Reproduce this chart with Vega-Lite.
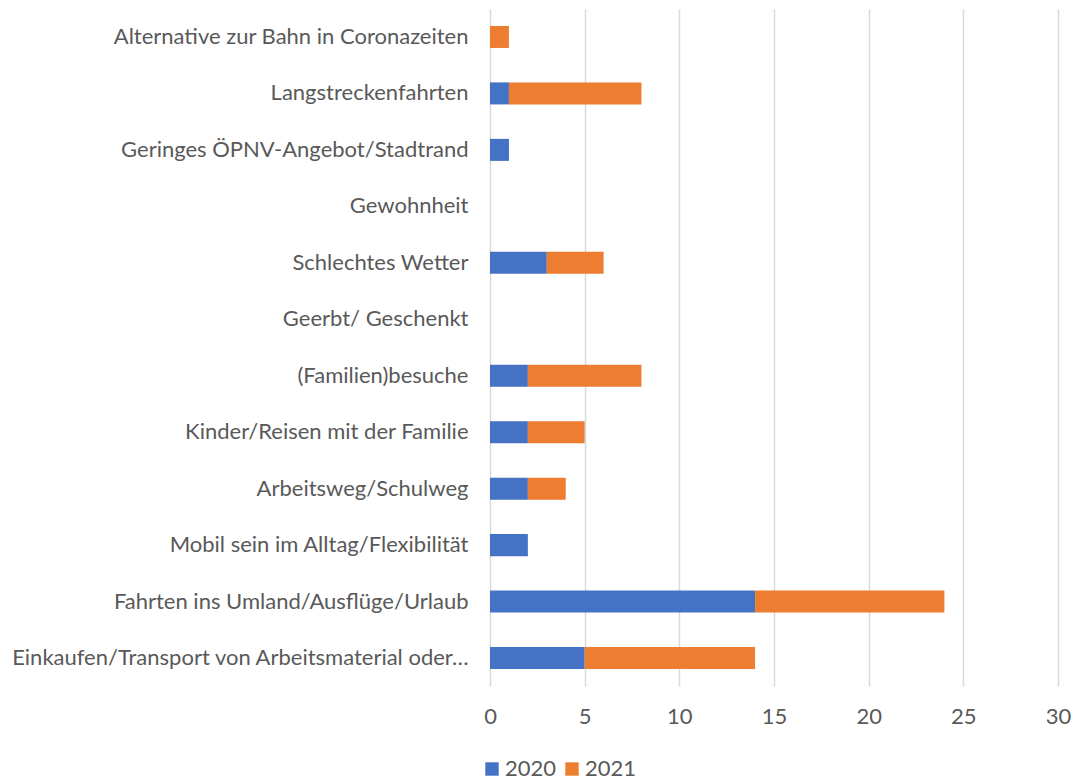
{
  "$schema": "https://vega.github.io/schema/vega-lite/v6.json",
  "width": 568,
  "height": 677,
  "autosize": {"type": "none"},
  "padding": {"left": 490, "top": 9, "right": 30, "bottom": 94},
  "background": "white",
  "config": {
    "view": {"stroke": null},
    "font": "Lato",
    "axis": {"labelFont": "Lato", "labelColor": "#595959", "labelFontSize": 22}
  },
  "data": {
    "values": [
      {"cat": "Alternative zur Bahn in Coronazeiten", "year": "2020", "v": 0},
      {"cat": "Alternative zur Bahn in Coronazeiten", "year": "2021", "v": 1},
      {"cat": "Langstreckenfahrten", "year": "2020", "v": 1},
      {"cat": "Langstreckenfahrten", "year": "2021", "v": 7},
      {"cat": "Geringes ÖPNV-Angebot/Stadtrand", "year": "2020", "v": 1},
      {"cat": "Geringes ÖPNV-Angebot/Stadtrand", "year": "2021", "v": 0},
      {"cat": "Gewohnheit", "year": "2020", "v": 0},
      {"cat": "Gewohnheit", "year": "2021", "v": 0},
      {"cat": "Schlechtes Wetter", "year": "2020", "v": 3},
      {"cat": "Schlechtes Wetter", "year": "2021", "v": 3},
      {"cat": "Geerbt/ Geschenkt", "year": "2020", "v": 0},
      {"cat": "Geerbt/ Geschenkt", "year": "2021", "v": 0},
      {"cat": "(Familien)besuche", "year": "2020", "v": 2},
      {"cat": "(Familien)besuche", "year": "2021", "v": 6},
      {"cat": "Kinder/Reisen mit der Familie", "year": "2020", "v": 2},
      {"cat": "Kinder/Reisen mit der Familie", "year": "2021", "v": 3},
      {"cat": "Arbeitsweg/Schulweg", "year": "2020", "v": 2},
      {"cat": "Arbeitsweg/Schulweg", "year": "2021", "v": 2},
      {"cat": "Mobil sein im Alltag/Flexibilität", "year": "2020", "v": 2},
      {"cat": "Mobil sein im Alltag/Flexibilität", "year": "2021", "v": 0},
      {"cat": "Fahrten ins Umland/Ausflüge/Urlaub", "year": "2020", "v": 14},
      {"cat": "Fahrten ins Umland/Ausflüge/Urlaub", "year": "2021", "v": 10},
      {"cat": "Einkaufen/Transport von Arbeitsmaterial oder…", "year": "2020", "v": 5},
      {"cat": "Einkaufen/Transport von Arbeitsmaterial oder…", "year": "2021", "v": 9}
    ]
  },
  "mark": {"type": "bar"},
  "encoding": {
    "y": {
      "field": "cat",
      "type": "nominal",
      "sort": null,
      "scale": {"paddingInner": 0.61, "paddingOuter": 0.3},
      "axis": {
        "title": null,
        "domain": false,
        "ticks": false,
        "labelPadding": 22,
        "labelLimit": 490
      }
    },
    "x": {
      "field": "v",
      "type": "quantitative",
      "stack": "zero",
      "scale": {"domain": [0, 30], "nice": false},
      "axis": {
        "title": null,
        "values": [0, 5, 10, 15, 20, 25, 30],
        "domain": false,
        "ticks": false,
        "labelFlush": false,
        "gridColor": "#d9d9d9",
        "gridWidth": 1.5,
        "labelPadding": 20
      }
    },
    "color": {
      "field": "year",
      "type": "nominal",
      "scale": {"domain": ["2020", "2021"], "range": ["#4472C4", "#ED7D31"]},
      "legend": {
        "title": null,
        "orient": "none",
        "legendX": -9,
        "legendY": 749,
        "direction": "horizontal",
        "symbolType": "square",
        "symbolSize": 180,
        "symbolStrokeWidth": 0,
        "labelFontSize": 22,
        "labelColor": "#595959",
        "labelFont": "Lato",
        "columnPadding": 4,
        "labelOffset": 2
      }
    },
    "order": {"field": "year", "type": "nominal"}
  }
}
